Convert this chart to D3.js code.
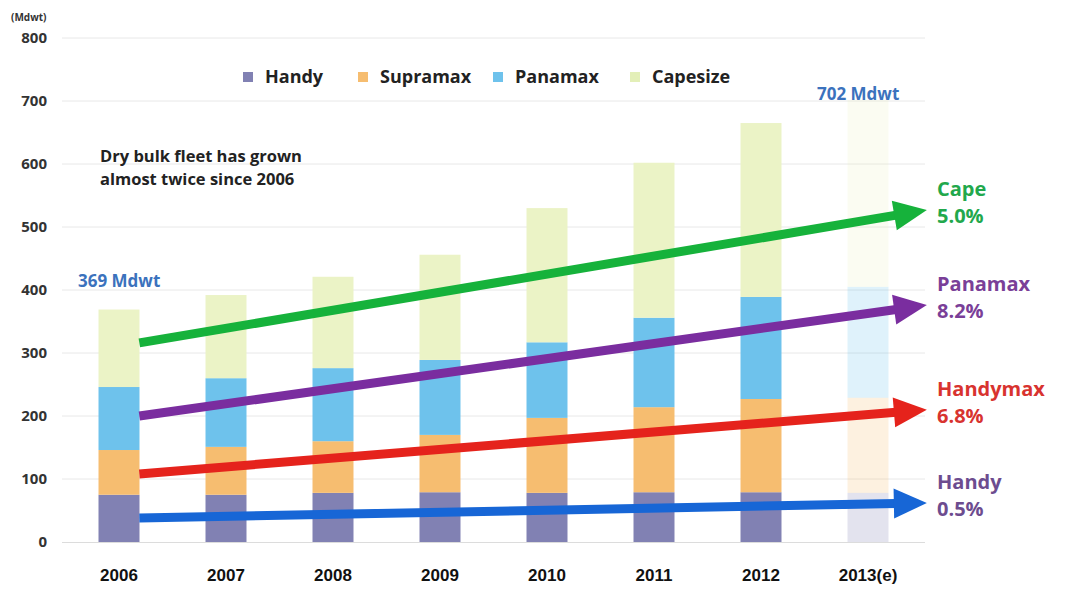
<!DOCTYPE html>
<html>
<head>
<meta charset="utf-8">
<script src="https://cdn.jsdelivr.net/npm/d3@7"></script>
<style>
  body { margin: 0; background: #fff; }
  svg { display: block; font-family: "Open Sans", "Noto Sans", sans-serif; }
</style>
</head>
<body>
<div id="chart"></div>
<script>
// fleet size by segment (Mdwt)
const years = ["2006", "2007", "2008", "2009", "2010", "2011", "2012", "2013(e)"];
const handy    = [75, 75, 78, 79, 78, 79, 79, 78];
const supramax = [71, 76, 82, 91, 119, 135, 148, 151];
const panamax  = [100, 109, 116, 119, 120, 142, 162, 176];
const capesize = [123, 132, 145, 167, 213, 246, 276, 297];
const segments = ["Handy", "Supramax", "Panamax", "Capesize"];
const yTicks = [0, 100, 200, 300, 400, 500, 600, 700, 800];

// growth arrows: [label, rate, start value, end value]
const arrowNames  = ["Cape", "Panamax", "Handymax", "Handy"];
const arrowRates  = ["5.0%", "8.2%", "6.8%", "0.5%"];
const arrowStart  = [316, 200, 108, 38];
const arrowEnd    = [527, 376, 210, 62];

const W = 1066, H = 590;
const colors = {Handy: "#8181b3", Supramax: "#f6bd70", Panamax: "#6ec2ec", Capesize: "#ebf3c6"};
const arrowColors = ["#16b23b", "#7a2d9f", "#e5231c", "#1766d6"];
const textColors  = ["#22a84c", "#7a3f98", "#d8332f", "#6d4c8f"];

const svg = d3.select("#chart").append("svg")
    .attr("width", W).attr("height", H);

const y = d3.scaleLinear().domain([0, 800]).range([542, 38]);
const x = d3.scaleBand().domain(years).range([65.5, 921.5])
    .paddingInner(0.617).paddingOuter(0.3085);
// continuous position by year index (for the arrows)
const xi = d3.scaleLinear().domain([0, 7])
    .range([x(years[0]) + x.bandwidth() / 2, x(years[7]) + x.bandwidth() / 2]);

// gridlines
svg.append("g").selectAll("line").data(yTicks.slice(1)).join("line")
    .attr("x1", 62).attr("x2", 925)
    .attr("y1", d => y(d)).attr("y2", d => y(d))
    .attr("stroke", "#e8e8e8").attr("stroke-width", 1);

// y axis
const yAxis = svg.append("g").attr("transform", "translate(47,0)")
    .call(d3.axisLeft(y).tickValues(yTicks).tickSize(0).tickPadding(0));
yAxis.select(".domain").remove();
yAxis.selectAll("text")
    .attr("font-family", "'Open Sans', sans-serif")
    .attr("font-size", 15).attr("font-weight", 700).attr("fill", "#333");

svg.append("text").attr("x", 11).attr("y", 21)
    .attr("font-size", 10).attr("font-weight", 700).attr("fill", "#333")
    .text("(Mdwt)");

// stacked bars
const table = years.map((yr, i) => ({
  year: yr, Handy: handy[i], Supramax: supramax[i], Panamax: panamax[i], Capesize: capesize[i]
}));
const stack = d3.stack().keys(segments)(table);

svg.append("g").selectAll("g").data(stack).join("g")
    .attr("fill", d => colors[d.key])
  .selectAll("rect").data(d => d).join("rect")
    .attr("x", d => x(d.data.year))
    .attr("width", x.bandwidth())
    .attr("y", d => y(d[1]))
    .attr("height", d => y(d[0]) - y(d[1]))
    .attr("opacity", d => d.data.year === "2013(e)" ? 0.22 : 1);

// baseline
svg.append("line").attr("x1", 62).attr("x2", 925)
    .attr("y1", y(0) + 0.5).attr("y2", y(0) + 0.5)
    .attr("stroke", "#dcdcdc");

// x axis labels
const xAxis = svg.append("g").attr("transform", "translate(0," + 566 + ")")
    .call(d3.axisBottom(x).tickSize(0).tickPadding(0));
xAxis.select(".domain").remove();
xAxis.selectAll("text")
    .attr("dy", "0.9em")
    .attr("font-family", "'Liberation Sans Narrow', 'Liberation Sans', sans-serif")
    .attr("font-size", 17).attr("font-weight", 700).attr("fill", "#111");

// legend
const legX = [243, 358, 493, 630];
const leg = svg.append("g").selectAll("g").data(segments).join("g")
    .attr("transform", (d, i) => "translate(" + legX[i] + ",77)");
leg.append("rect").attr("x", 0).attr("y", -5).attr("width", 10).attr("height", 10)
    .attr("fill", d => d === "Capesize" ? "#e3efb8" : colors[d]);
leg.append("text").attr("x", 22).attr("y", 0).attr("dy", "0.35em")
    .attr("font-size", 18).attr("font-weight", 700).attr("fill", "#222")
    .text(d => d);

// annotations
svg.append("text").attr("x", 100).attr("y", 162)
    .attr("font-size", 16.5).attr("font-weight", 700).attr("fill", "#222")
    .selectAll("tspan").data(["Dry bulk fleet has grown", "almost twice since 2006"]).join("tspan")
    .attr("x", 100).attr("dy", (d, i) => i ? 23 : 0).text(d => d);

svg.append("text").attr("x", 78).attr("y", 287)
    .attr("font-size", 17).attr("font-weight", 700).attr("fill", "#3b72bd")
    .text(capesize[0] + handy[0] + supramax[0] + panamax[0] + " Mdwt");
svg.append("text").attr("x", 817).attr("y", 100)
    .attr("font-size", 17).attr("font-weight", 700).attr("fill", "#3b72bd")
    .text("702 Mdwt");

// growth arrows
const headLen = 33, headHalf = 15;
const arrows = svg.append("g");
arrowNames.forEach((name, i) => {
  const x0 = xi(0.19), y0 = y(arrowStart[i]);
  const x1 = xi(7.55), y1 = y(arrowEnd[i]);
  const dx = x1 - x0, dy = y1 - y0, len = Math.hypot(dx, dy);
  const ux = dx / len, uy = dy / len;
  const bx = x1 - ux * headLen, by = y1 - uy * headLen;
  arrows.append("line")
      .attr("x1", x0).attr("y1", y0).attr("x2", bx + ux * 2).attr("y2", by + uy * 2)
      .attr("stroke", arrowColors[i]).attr("stroke-width", 9);
  arrows.append("path")
      .attr("d", d3.line()([
        [x1, y1],
        [bx - uy * headHalf, by + ux * headHalf],
        [bx + uy * headHalf, by - ux * headHalf]
      ]) + "Z")
      .attr("fill", arrowColors[i]);
  const lbl = svg.append("text").attr("x", 937).attr("y", y1 - 14)
      .attr("font-size", 20).attr("font-weight", 700).attr("fill", textColors[i]);
  lbl.append("tspan").attr("x", 937).text(name);
  lbl.append("tspan").attr("x", 937).attr("dy", 27).text(arrowRates[i]);
});
</script>
</body>
</html>
